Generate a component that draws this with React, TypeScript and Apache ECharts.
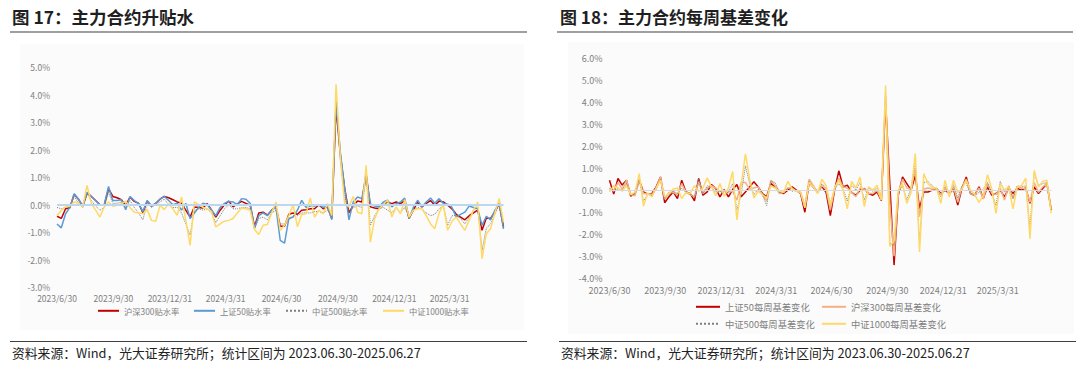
import React, { useEffect, useRef } from 'react';
import * as echarts from 'echarts';

const FONT = "'Noto Sans CJK SC','Noto Sans',sans-serif";

// weekly observation dates 2023-06-30 .. 2025-06-27, kept as day offsets from 2023-06-30
const DAY = 86400000;
const origin = new Date(2023, 5, 30).getTime();
const weeks: number[] = Array.from({ length: 105 }, (_, i) => Math.round((new Date(2023, 5, 30 + 7 * i).getTime() - origin) / DAY));

const tickLabels = ['2023/6/30', '2023/9/30', '2023/12/31', '2024/3/31', '2024/6/30', '2024/9/30', '2024/12/31', '2025/3/31'];

// 图17 升贴水率 (%)
const hs300Premium = [
  -0.42, -0.5, -0.15, -0.11, 0.38, 0.2, -0.06, 0.42, 0.3, 0.15,
  0, -0.02, 0.58, 0.3, 0.25, 0.18, -0.03, 0.28, 0.12, 0.05,
  -0.29, 0.13, -0.05, 0.05, 0.2, 0.3, 0.25, 0.18, 0.1, 0.05,
  -0.2, -0.45, -0.08, -0.1, -0.12, 0.04, -0.2, -0.45, -0.2, 0,
  0.13, -0.08, 0.03, 0.12, 0.05, -0.02, -0.8, -0.3, -0.27, -0.38,
  -0.2, -0.08, -0.78, -0.78, -0.35, -0.3, -0.35, -0.2, -0.18, -0.15,
  -0.15, 0, -0.15, -0.08, -0.5, 3.55, 1.8, 0.6, -0.3, -0.02,
  0.13, 0.1, 1.13, -0.08, -0.12, -0.15, 0, 0.1, 0.04, 0.1,
  0.04, 0.15, -0.5, -0.2, 0.1, -0.08, 0.05, 0.15, -0.02, 0.13,
  0.1, -0.02, -0.15, -0.35, -0.45, -0.55, -0.4, -0.3, -0.2, -0.93,
  -0.48, -0.5, -0.25, 0.04, -0.8,
];
const sz50Premium = [
  -0.7, -0.84, -0.33, -0.1, 0.4, 0.2, -0.05, 0.45, 0.3, 0.15,
  0, 0, 0.66, 0.15, 0.15, 0.18, -0.18, 0.3, 0.15, 0.05,
  -0.25, 0.15, -0.05, 0.05, 0.2, 0.3, 0.15, 0, 0.05, -0.2,
  0.05, -0.5, -0.3, -0.1, 0.05, 0, -0.2, -0.4, -0.1, 0.05,
  0.12, 0.1, 0, 0.22, 0.2, 0.05, -0.85, -0.4, -0.3, -0.4,
  -0.2, -0.1, -1.3, -1.4, -0.5, -0.45, -0.2, 0.16, -0.1, -0.05,
  -0.05, 0, -0.1, -0.05, -0.55, 3.73, 1.9, 0.6, -0.55, 0.1,
  0.28, 0.22, 1.0, 0.03, -0.05, -0.08, 0.1, 0.16, -0.08, 0.04,
  0.1, 0.24, -0.5, -0.1, 0.16, -0.08, 0.1, 0.24, 0.05, 0.22,
  0.04, 0.02, -0.1, -0.45, -0.35, -0.27, -0.05, -0.1, -0.15, -0.75,
  -0.42, -0.55, -0.2, 0.04, -0.87,
];
const zz500Premium = [
  -0.1, -0.15, -0.1, -0.05, 0.3, 0.05, -0.1, 0.4, 0.15, -0.05,
  -0.2, -0.1, 0.45, 0.05, 0.05, 0.1, -0.1, 0.15, -0.1, -0.3,
  -0.55, 0.05, -0.1, 0, 0.1, 0.2, 0, -0.1, -0.1, -0.3,
  -0.7, -1.1, -0.2, -0.15, -0.2, -0.15, -0.3, -0.65, -0.4, -0.15,
  0, -0.15, -0.15, -0.1, -0.1, -0.15, -0.9, -0.5, -0.45, -0.55,
  -0.3, -0.2, -0.7, -0.7, -0.55, -0.4, -0.4, -0.3, -0.3, -0.3,
  -0.25, -0.25, -0.3, -0.2, -0.45, 4.0, 1.6, 0.3, -0.3, -0.1,
  -0.05, -0.1, 1.0, -0.75, -0.4, -0.15, -0.1, -0.2, -0.3, -0.1,
  -0.3, -0.1, -0.45, -0.2, -0.1, -0.15, -0.3, -0.4, -0.35, -0.15,
  -0.05, -0.75, -0.4, -0.4, -0.5, -0.7, -0.45, -0.2, -0.1, -1.66,
  -0.85, -0.7, -0.35, 0, -0.9,
];
const zz1000Premium = [
  -0.4, -0.2, -0.08, -0.05, 0.1, 0.05, -0.08, 0.7, 0.04, -0.2,
  -0.45, -0.08, 0.1, -0.06, -0.02, 0.04, 0.13, -0.1, -0.27, -0.3,
  -0.33, -0.18, -0.57, -0.6, -0.02, -0.18, 0.04, -0.15, -0.39, 0.28,
  -0.57, -1.48, 0.1, 0, -0.1, -0.15, -0.25, -0.81, -0.7, -0.6,
  -0.57, -0.5, -0.3, -0.12, -0.15, -0.2, -0.9, -1.08, -0.75, -0.72,
  -0.3, 0.1, -0.93, -0.75, -0.39, 0, -0.8, -0.36, -0.33, 0.24,
  -0.45, -0.2, -0.33, 0.04, -0.39, 4.37, 1.73, 0.04, -0.08, 0.3,
  -0.27, -0.33, 1.43, -1.36, -0.5, -0.15, 0, 0.16, -0.45, -0.08,
  -0.33, 0.18, -0.45, -0.2, -0.15, -0.15, -0.4, -0.7, -0.87, -0.3,
  0, -0.93, -0.6, -0.45, -0.7, -0.93, -0.57, -0.2, 0.1, -1.96,
  -1.05, -0.87, -0.3, 0.22, -0.63,
];

// 图18 每周基差变化 (%)
const sz50Change = [
  0.45, -0.18, 0.53, 0.23, 0.45, -0.27, -0.15, 0.45, -0.08, -0.18,
  -0.15, 0.15, 0.6, -0.57, -0.3, -0.08, -0.38, 0.45, -0.08, -0.15,
  -0.48, 0.53, -0.23, -0.08, 0.26, 0.08, -0.3, 0.03, -0.3, 0.03,
  0.26, -0.3, -0.08, 0.15, 0.38, 0.15, -0.15, -0.3, 0.3, 0.15,
  -0.08, -0.15, 0, 0.15, 0, -0.15, -1.0, 0.35, 0.15, -0.08,
  0.18, -0.1, -1.15, 0, 0.88, 0.15, 0.23, -0.1, -0.23, 0,
  0.08, -0.15, -0.23, -0.08, -0.48, 4.0, 0.3, -3.4, -0.22, 0.6,
  0.3, 0, 0.68, -0.83, -0.08, -0.08, 0, 0.08, -0.15, 0,
  -0.15, 0.05, -0.68, 0.1, 0.6, -0.15, -0.23, 0.15, -0.38, 0.15,
  -0.23, -0.15, 0, -0.3, 0.08, -0.15, 0.08, 0, 0.1, -0.6,
  0.15, -0.15, 0.08, 0.3, -0.9,
];
const hs300Change = [
  0.1, -0.05, 0.35, 0.05, 0.45, -0.2, -0.25, 0.45, -0.15, -0.15,
  -0.2, 0.1, 0.6, -0.4, -0.1, -0.1, -0.2, 0.3, -0.1, -0.2,
  -0.3, 0.4, -0.15, 0.1, 0.2, 0.1, -0.05, -0.05, -0.1, -0.05,
  -0.45, 0.35, 0.35, 0.05, 0.1, 0.15, -0.2, -0.5, 0.45, 0.2,
  -0.15, -0.1, 0.1, 0.1, -0.05, -0.1, -0.75, 0.5, 0.2, -0.1,
  0.2, 0.05, -0.9, 0.05, 0.55, 0.15, 0.1, -0.1, -0.3, 0.1,
  0.05, -0.15, -0.15, 0, -0.45, 4.3, -0.6, -3.0, -0.15, 0.5,
  0.1, 0.05, 0.95, -1.2, 0.05, 0.1, 0.05, 0.05, -0.2, 0.1,
  -0.15, 0.15, -0.55, 0.15, 0.5, -0.15, -0.25, 0.1, -0.4, 0.3,
  -0.15, -0.2, 0.1, -0.45, 0.2, -0.35, 0.15, 0.1, 0.05, -0.55,
  0.35, -0.1, 0.15, 0.3, -0.85,
];
const zz500Change = [
  0.05, 0, 0.05, 0, 0.3, -0.2, -0.15, 0.5, -0.5, -0.2,
  -0.25, 0.05, 0.5, -0.4, -0.2, -0.05, -0.15, 0.1, -0.1, -0.2,
  -0.3, 0.5, -0.15, 0.2, 0.15, -0.1, -0.05, -0.15, -0.1, 0.3,
  -0.9, -0.2, 1.1, 0.3, -0.2, 0.05, -0.2, -0.7, 0.4, 0.35,
  -0.1, -0.1, 0.1, -0.05, 0, -0.1, -0.75, 0.4, 0.1, -0.1,
  0.3, 0.1, -0.6, 0.05, 0.3, 0.05, -0.5, 0.25, 0, 0.35,
  -0.45, 0.1, -0.05, 0.1, -0.3, 4.4, -2.4, -2.5, -0.1, 0.2,
  -0.45, 0.1, 1.3, -2.4, 0.35, 0.4, 0.2, 0.05, -0.3, 0.2,
  -0.2, 0.25, -0.35, 0.2, 0.3, -0.15, -0.25, -0.1, 0.05, 0.35,
  -0.1, -0.7, 0.4, -0.1, 0.15, -0.4, 0.2, 0.15, 0.2, -1.7,
  0.8, 0.2, 0.3, 0.35, -0.9,
];
const zz1000Change = [
  -0.08, 0.2, 0.1, -0.05, 0.2, -0.2, -0.1, 0.75, -0.72, -0.15,
  -0.3, 0.1, 0.45, -0.3, -0.15, 0.05, 0.1, -0.38, -0.1, -0.15,
  0.2, -0.05, 0.1, 0.56, 0.15, -0.25, 0.3, -0.28, 0.1, 0.85,
  -1.35, 0.2, 1.65, 0.5, -0.35, -0.05, -0.2, -0.35, 0.2, 0.1,
  -0.05, -0.1, 0.4, 0.05, -0.05, -0.1, -0.8, 0.35, 0.15, -0.15,
  0.5, 0.2, -0.7, 0.1, 0.45, 0, -0.85, 0.4, 0.1, 0.6,
  -0.75, 0.15, 0, 0.23, -0.45, 4.75, -2.55, -2.3, 0, 0.3,
  -0.6, -0.1, 1.66, -2.8, 0.75, 0.3, 0.1, 0.1, -0.6, 0.45,
  -0.3, 0.45, -0.1, 0.05, 0.45, 0, -0.2, -0.55, -0.25, 0.7,
  0.05, -1.05, 0.3, 0, 0.15, -0.85, 0.15, 0.2, 0.55, -2.2,
  0.9, 0.15, 0.4, 0.45, -1.05,
];

const tickDays = tickLabels.map((s) => {
  const [y, m, d] = s.split('/').map(Number);
  return Math.round((new Date(y, m - 1, d).getTime() - origin) / DAY);
});
const fmtDay = (v: number) => {
  const d = new Date(2023, 5, 30 + Math.round(v));
  return `${d.getFullYear()}/${d.getMonth() + 1}/${d.getDate()}`;
};
const pair = (vals: number[]) => weeks.map((t, i) => [t, vals[i]]);

const LABEL = '#7f7f7f';

const xAxisCfg = (gridIndex: number, fontSize: number, margin: number) => ({
  type: 'value',
  gridIndex,
  min: weeks[0],
  max: weeks[weeks.length - 1],
  axisLine: { show: false },
  axisTick: { show: false },
  splitLine: { show: false },
  axisLabel: {
    customValues: tickDays,
    formatter: (v: number) => fmtDay(v),
    color: LABEL,
    fontSize,
    fontFamily: FONT,
    margin,
    showMinLabel: true,
    showMaxLabel: true,
  },
});
const yAxisCfg = (gridIndex: number, min: number, max: number, fontSize: number) => ({
  type: 'value',
  gridIndex,
  min,
  max,
  interval: 1,
  axisLine: { show: false },
  axisTick: { show: false },
  splitLine: { show: false },
  axisLabel: {
    formatter: (v: number) => `${v.toFixed(1)}%`,
    color: LABEL,
    fontSize,
    fontFamily: FONT,
    margin: 7,
  },
});

const lineSeries = (name: string, vals: number[], idx: number, color: string, width: number, type: string, extra: any = {}) => ({
  name,
  type: 'line',
  xAxisIndex: idx,
  yAxisIndex: idx,
  data: pair(vals),
  showSymbol: false,
  symbol: 'none',
  lineStyle: { color, width, type },
  itemStyle: { color },
  ...extra,
});

const zeroLine = (color: string, width: number) => ({
  markLine: {
    silent: true,
    symbol: 'none',
    label: { show: false },
    lineStyle: { color, width, type: 'solid' },
    data: [{ yAxis: 0 }],
  },
});

const legendAt = (name: string, left: number, centerY: number, itemWidth: number, fontSize: number) => ({
  data: [name],
  left,
  top: centerY - 6,
  padding: 0,
  itemWidth,
  itemHeight: 12,
  selectedMode: false,
  itemStyle: { opacity: 0 },
  textStyle: { color: LABEL, fontSize, fontFamily: FONT },
});

export default function App() {
  const ref = useRef<HTMLDivElement>(null);
  useEffect(() => {
    if (!ref.current) return;
    const chart = echarts.init(ref.current, undefined, { renderer: 'svg' });
    chart.setOption({
      animation: false,
      backgroundColor: '#ffffff',
      textStyle: { fontFamily: FONT },
      grid: [
        { left: 57, top: 67, width: 446.5, height: 220.3 },
        { left: 609.5, top: 58, width: 441.7, height: 220.3 },
      ],
      xAxis: [xAxisCfg(0, 8.5, 6), xAxisCfg(1, 9, 7.5)],
      yAxis: [yAxisCfg(0, -3, 5, 8.5), yAxisCfg(1, -4, 6, 9)],
      legend: [
        legendAt('沪深300贴水率', 97, 312, 21, 8.3),
        legendAt('上证50贴水率', 193, 312, 21, 8.3),
        legendAt('中证500贴水率', 285, 312, 21, 8.3),
        legendAt('中证1000贴水率', 382, 312, 21, 8.3),
        legendAt('上证50每周基差变化', 695, 308, 24, 9.3),
        legendAt('沪深300每周基差变化', 821, 308, 24, 9.3),
        legendAt('中证500每周基差变化', 695, 325, 24, 9.3),
        legendAt('中证1000每周基差变化', 821, 325, 24, 9.3),
      ],
      series: [
        lineSeries('沪深300贴水率', hs300Premium, 0, '#C00000', 1.5, 'solid', zeroLine('#BDD7EE', 2)),
        lineSeries('上证50贴水率', sz50Premium, 0, '#5B9BD5', 1.5, 'solid'),
        lineSeries('中证500贴水率', zz500Premium, 0, '#7F7F7F', 1, 'dotted'),
        lineSeries('中证1000贴水率', zz1000Premium, 0, '#FFD966', 1.5, 'solid'),
        lineSeries('上证50每周基差变化', sz50Change, 1, '#C00000', 1.5, 'solid', zeroLine('#D9D9D9', 1)),
        lineSeries('沪深300每周基差变化', hs300Change, 1, '#F4B183', 1.5, 'solid'),
        lineSeries('中证500每周基差变化', zz500Change, 1, '#7F7F7F', 1, 'dotted'),
        lineSeries('中证1000每周基差变化', zz1000Change, 1, '#FFD966', 1.5, 'solid'),
      ],
      graphic: [
        { type: 'rect', z: -10, shape: { x: 20, y: 44, width: 504, height: 286 }, style: { fill: '#FBFBFB' } },
        { type: 'rect', z: -10, shape: { x: 568, y: 42, width: 506, height: 292 }, style: { fill: '#FBFBFB' } },
        { type: 'text', x: 12, y: 16.5, style: { text: '图 17：主力合约升贴水', fontSize: 17.5, fontWeight: 'bold', fill: '#1f1f1f', fontFamily: FONT, verticalAlign: 'middle' } },
        { type: 'text', x: 560, y: 16.5, style: { text: '图 18：主力合约每周基差变化', fontSize: 17, fontWeight: 'bold', fill: '#1f1f1f', fontFamily: FONT, verticalAlign: 'middle' } },
        { type: 'line', shape: { x1: 10, y1: 32, x2: 527, y2: 32 }, style: { stroke: '#404040', lineWidth: 1.2 } },
        { type: 'line', shape: { x1: 557, y1: 32, x2: 1073, y2: 32 }, style: { stroke: '#404040', lineWidth: 1.2 } },
        { type: 'line', shape: { x1: 10, y1: 341.5, x2: 527, y2: 341.5 }, style: { stroke: '#404040', lineWidth: 1.2 } },
        { type: 'line', shape: { x1: 559, y1: 341.5, x2: 1076, y2: 341.5 }, style: { stroke: '#404040', lineWidth: 1.2 } },
        { type: 'text', x: 12, y: 352.5, style: { text: '资料来源：Wind，光大证券研究所；统计区间为 2023.06.30-2025.06.27', fontSize: 12.8, fill: '#222222', fontFamily: FONT, verticalAlign: 'middle' } },
        { type: 'text', x: 561, y: 352.5, style: { text: '资料来源：Wind，光大证券研究所；统计区间为 2023.06.30-2025.06.27', fontSize: 12.8, fill: '#222222', fontFamily: FONT, verticalAlign: 'middle' } },
      ],
    });
    return () => chart.dispose();
  }, []);
  return <div ref={ref} style={{ position: 'absolute', left: 0, top: 0, width: 1080, height: 365 }} />;
}
